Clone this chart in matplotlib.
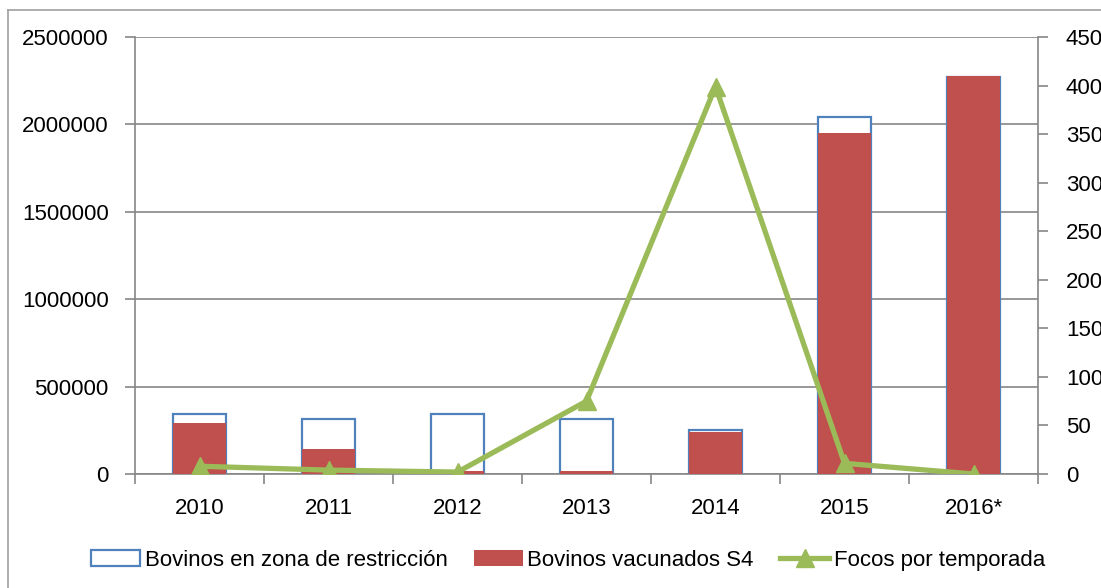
import matplotlib
matplotlib.use("Agg")
import matplotlib.pyplot as plt
from matplotlib.lines import Line2D
import numpy as np

years = ["2010", "2011", "2012", "2013", "2014", "2015", "2016*"]
restriccion = [341000, 316000, 341000, 316000, 253000, 2040000, 2270000]
vacunados = [290000, 141000, 15000, 15000, 242000, 1949000, 2277000]
focos = [8, 4, 2, 75, 399, 11, 0]

blue = "#4F81BD"
red = "#C0504D"
green = "#9BBB59"
grid = "#868686"

plt.rcParams['font.family'] = ['Liberation Sans', 'DejaVu Sans']
fs = 16

fig = plt.figure(figsize=(11.01, 5.88), dpi=100)
ax = fig.add_axes([135/1101, 1 - 474/588, (1038-135)/1101, (474-37)/588])
x = np.arange(len(years))
w = 0.41
ax.bar(x, restriccion, width=w, facecolor="white", edgecolor=blue, linewidth=1.6, zorder=2,
       label="Bovinos en zona de restricción")
ax.bar(x, vacunados, width=w, facecolor=red, edgecolor="none", zorder=3,
       label="Bovinos vacunados S4")
ax.set_xlim(-0.5, len(years) - 0.5)
ax.set_ylim(0, 2500000)
ax.set_yticks(np.arange(0, 2500001, 500000))
ax.set_yticklabels([f"{int(v)}" for v in np.arange(0, 2500001, 500000)])
ax.yaxis.grid(True, color=grid, linewidth=1.2, zorder=0)
ax.set_axisbelow(True)
ax.set_xticks(x)
ax.set_xticklabels(years)
ax.set_xticks(np.arange(-0.5, len(years), 1), minor=True)
ax.tick_params(axis='x', which='major', length=0, pad=17, labelsize=fs)
ax.tick_params(axis='x', which='minor', length=7, width=1.2, color=grid, direction='out')
ax.tick_params(axis='y', length=7, width=1.2, color=grid, pad=12, labelsize=fs)
for s in ['top', 'right']:
    ax.spines[s].set_visible(False)
for s in ['left', 'bottom']:
    ax.spines[s].set_color(grid)
    ax.spines[s].set_linewidth(1.2)

ax2 = ax.twinx()
ax2.plot(x, focos, color=green, linewidth=3.8, marker="^", markersize=13, zorder=5,
         label="Focos por temporada")
ax2.set_ylim(0, 450)
ax2.set_yticks(np.arange(0, 451, 50))
ax2.tick_params(axis='y', length=7, width=1.2, color=grid, pad=13, labelsize=fs)
for s in ['top', 'left', 'bottom']:
    ax2.spines[s].set_visible(False)
ax2.spines['right'].set_color(grid)
ax2.spines['right'].set_linewidth(1.2)

h1, l1 = ax.get_legend_handles_labels()
h2, l2 = ax2.get_legend_handles_labels()
fig.legend(h1 + h2, l1 + l2, loc='center', bbox_to_anchor=(0.516, 0.047), ncol=3,
           frameon=False, fontsize=fs, handlelength=2.2, handletextpad=0.2,
           columnspacing=1.2)

# outer chart frame (partially cropped)
fig.add_artist(Line2D([8/1101, 8/1101], [0, 1 - 10/588], color="#A0A0A0", linewidth=1.2,
                      transform=fig.transFigure))
fig.add_artist(Line2D([8/1101, 1], [1 - 10/588, 1 - 10/588], color="#A0A0A0", linewidth=1.2,
                      transform=fig.transFigure))

fig.savefig("out.png", dpi=100)
